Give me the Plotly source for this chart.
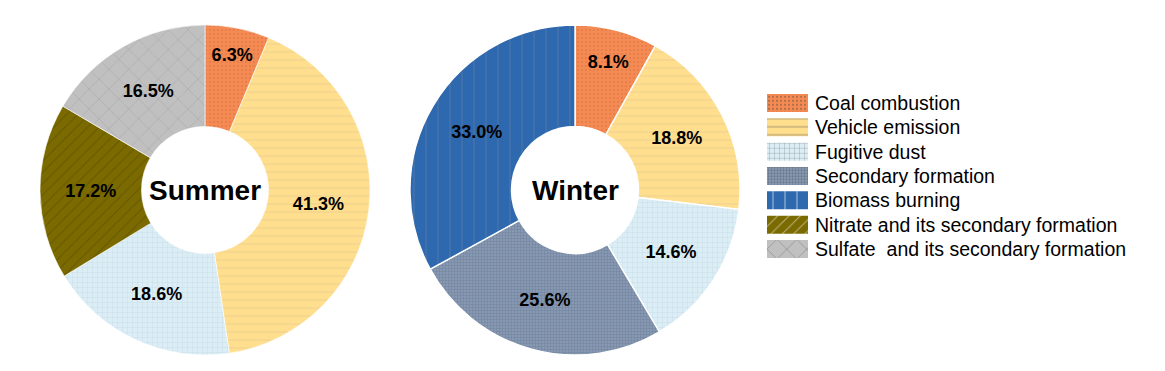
import plotly.graph_objects as go

# ---- data ----
summer_labels = ["Coal combustion", "Vehicle emission", "Fugitive dust",
                 "Nitrate and its secondary formation", "Sulfate  and its secondary formation"]
summer_values = [6.3, 41.3, 18.6, 17.2, 16.5]

winter_labels = ["Coal combustion", "Vehicle emission", "Fugitive dust",
                 "Secondary formation", "Biomass burning"]
winter_values = [8.1, 18.8, 14.6, 25.6, 33.0]

legend_labels = ["Coal combustion", "Vehicle emission", "Fugitive dust",
                 "Secondary formation", "Biomass burning",
                 "Nitrate and its secondary formation",
                 "Sulfate  and its secondary formation"]

# ---- styles ----
colors = {
    "Coal combustion": "#F58A52",
    "Vehicle emission": "#FFDE8E",
    "Fugitive dust": "#DCEEF5",
    "Secondary formation": "#8698B2",
    "Biomass burning": "#2E69AF",
    "Nitrate and its secondary formation": "#7A6A00",
    "Sulfate  and its secondary formation": "#C0C0C0",
}
patterns = {
    "Coal combustion": ".",
    "Vehicle emission": "-",
    "Fugitive dust": "+",
    "Secondary formation": "+",
    "Biomass burning": "|",
    "Nitrate and its secondary formation": "/",
    "Sulfate  and its secondary formation": "x",
}
pat_size = {
    "Coal combustion": 4,
    "Vehicle emission": 8,
    "Fugitive dust": 5,
    "Secondary formation": 3,
    "Biomass burning": 12,
    "Nitrate and its secondary formation": 8,
    "Sulfate  and its secondary formation": 14,
}
pat_solid = {
    "Coal combustion": 0.2,
    "Vehicle emission": 0.12,
    "Fugitive dust": 0.15,
    "Secondary formation": 0.3,
    "Biomass burning": 0.1,
    "Nitrate and its secondary formation": 0.12,
    "Sulfate  and its secondary formation": 0.08,
}
fgcolors = {
    "Coal combustion": "#C87048",
    "Vehicle emission": "#D8C090",
    "Fugitive dust": "#A9C3D3",
    "Secondary formation": "#5E6E82",
    "Biomass burning": "#6A7F9F",
    "Nitrate and its secondary formation": "#4E4500",
    "Sulfate  and its secondary formation": "#8E8E8E",
}
FONT = "Arial, Liberation Sans, sans-serif"


def pattern_for(labels):
    return dict(
        shape=[patterns[l] for l in labels],
        size=[pat_size[l] for l in labels],
        solidity=[pat_solid[l] for l in labels],
        fgcolor=[fgcolors[l] for l in labels],
        fillmode="overlay",
    )


W, H = 1165, 371
fig = go.Figure()

for labels, values, dom, lw in [
    (summer_labels, summer_values, [40 / W, 370 / W], 0.6),
    (winter_labels, winter_values, [410 / W, 740 / W], 1.4),
]:
    fig.add_trace(go.Pie(
        labels=labels, values=values, sort=False,
        direction="clockwise", rotation=0, hole=0.385,
        marker=dict(colors=[colors[l] for l in labels],
                    line=dict(color="white", width=lw),
                    pattern=pattern_for(labels)),
        texttemplate="%{value:.1f}%", textposition="inside",
        insidetextorientation="horizontal",
        textfont=dict(family=FONT, size=18, color="black", weight="bold"),
        domain=dict(x=dom, y=[16 / H, 346 / H]),
        hoverinfo="label+value",
        showlegend=False,
    ))

# ---- custom legend: patterned swatches as a bar trace ----
idx = list(range(len(legend_labels)))
fig.add_trace(go.Bar(
    x=[1] * len(legend_labels), y=idx, orientation="h", width=0.74,
    xaxis="x2", yaxis="y2",
    marker=dict(
        color=[colors[l] for l in legend_labels],
        line=dict(width=0),
        pattern=pattern_for(legend_labels),
    ),
    hovertext=legend_labels, hoverinfo="text",
    showlegend=False,
))
for i, lab in zip(idx, legend_labels):
    fig.add_annotation(x=1, y=i, xref="x2", yref="y2", xanchor="left",
                       xshift=5, text=lab, showarrow=False,
                       font=dict(family=FONT, size=19.5, color="black"))

# ---- center labels ----
fig.add_annotation(x=205 / W, y=(H - 190) / H, xref="paper", yref="paper",
                   xanchor="center", yanchor="middle",
                   text="<b>Summer</b>", showarrow=False,
                   font=dict(family=FONT, size=28, color="black"))
fig.add_annotation(x=575 / W, y=(H - 190) / H, xref="paper", yref="paper",
                   xanchor="center", yanchor="middle",
                   text="<b>Winter</b>", showarrow=False,
                   font=dict(family=FONT, size=28, color="black"))

fig.update_layout(
    width=W, height=H,
    margin=dict(l=0, r=0, t=0, b=0),
    paper_bgcolor="white", plot_bgcolor="white",
    showlegend=False,
    xaxis2=dict(domain=[767 / W, 808 / W], range=[0, 1], visible=False,
                fixedrange=True, anchor="y2"),
    yaxis2=dict(domain=[(H - 261.2) / H, (H - 90.8) / H], range=[6.5, -0.5],
                visible=False, fixedrange=True, anchor="x2"),
)

fig.write_html("out.html")
